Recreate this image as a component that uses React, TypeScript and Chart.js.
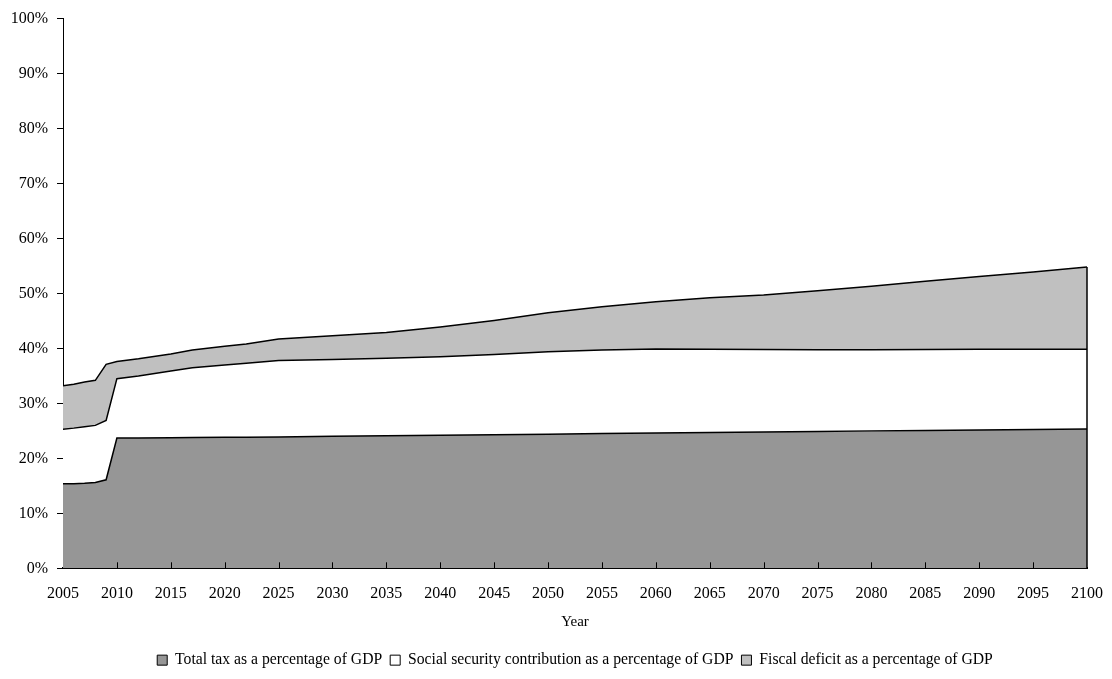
import React, { useEffect, useRef } from "react";
import { Chart, registerables } from "chart.js";

Chart.register(...registerables);

// Years with readings (the line segments between them are straight)
const years = [
  2005, 2006, 2007, 2008, 2009, 2010, 2012, 2015, 2017, 2020, 2022, 2025, 2030, 2035,
  2040, 2045, 2050, 2055, 2060, 2065, 2070, 2075, 2080, 2085, 2090, 2095, 2100,
];

// Total tax, % of GDP
const totalTax = [
  15.4, 15.4, 15.45, 15.6, 16.1, 23.7, 23.72, 23.75, 23.78, 23.82, 23.85, 23.9, 24.0, 24.1,
  24.2, 24.3, 24.4, 24.5, 24.6, 24.7, 24.8, 24.9, 25.0, 25.08, 25.16, 25.24, 25.32,
];

// Social security contribution, % of GDP
const socialSecurity = [
  9.9, 10.1, 10.3, 10.4, 10.8, 10.8, 11.28, 12.15, 12.72, 13.18, 13.45, 13.9, 14.0, 14.1,
  14.3, 14.6, 15.0, 15.2, 15.3, 15.15, 15.0, 14.85, 14.75, 14.72, 14.69, 14.61, 14.53,
];

// Fiscal deficit, % of GDP
const fiscalDeficit = [
  7.9, 8.0, 8.15, 8.2, 10.2, 3.1, 3.1, 3.1, 3.2, 3.4, 3.5, 3.9, 4.3, 4.7,
  5.4, 6.2, 7.1, 7.9, 8.6, 9.35, 9.9, 10.75, 11.55, 12.4, 13.25, 14.05, 14.95,
];

const seriesNames = [
  "Total tax as a percentage of GDP",
  "Social security contribution as a percentage of GDP",
  "Fiscal deficit as a percentage of GDP",
];
const seriesColors = ["#969696", "#FFFFFF", "#C0C0C0"];

const FONT = "'Liberation Serif', 'Times New Roman', serif";

// Inward year ticks and the closing right edge of the stacked area
const edgePlugin = {
  id: "areaEdges",
  afterDatasetsDraw(chart: any) {
    const { ctx } = chart;
    const x = chart.scales.x;
    const y = chart.scales.y;
    ctx.save();
    ctx.strokeStyle = "#000";
    ctx.lineWidth = 1;
    for (const t of x.ticks) {
      if (t.value <= x.min || t.value >= x.max) continue;
      const px = Math.round(x.getPixelForValue(t.value)) + 0.5;
      ctx.beginPath();
      ctx.moveTo(px, y.bottom);
      ctx.lineTo(px, y.bottom - 6);
      ctx.stroke();
    }
    const last = years.length - 1;
    const top = totalTax[last] + socialSecurity[last] + fiscalDeficit[last];
    const ex = x.getPixelForValue(years[last]);
    ctx.lineWidth = 1.5;
    ctx.beginPath();
    ctx.moveTo(ex, y.getPixelForValue(top));
    ctx.lineTo(ex, y.bottom);
    ctx.stroke();
    ctx.restore();
  },
};

export default function App() {
  const canvasRef = useRef<HTMLCanvasElement | null>(null);

  useEffect(() => {
    document.body.style.margin = "0";
    const canvas = canvasRef.current;
    if (!canvas) return;

    const series = [totalTax, socialSecurity, fiscalDeficit];
    const datasets = series.map((vals, i) => ({
      label: seriesNames[i],
      data: years.map((yr, j) => ({ x: yr, y: vals[j] })),
      backgroundColor: seriesColors[i],
      borderColor: "#000000",
      borderWidth: 1.5,
      pointRadius: 0,
      tension: 0,
      fill: i === 0 ? "origin" : "-1",
    }));

    const chart = new Chart(canvas, {
      type: "line",
      data: { datasets },
      plugins: [edgePlugin],
      options: {
        responsive: false,
        animation: false,
        devicePixelRatio: 1,
        layout: { padding: { left: 0, right: 25, top: 16, bottom: 1 } },
        plugins: {
          tooltip: { enabled: false },
          legend: {
            position: "bottom",
            fullSize: false,
            labels: {
              boxWidth: 10,
              boxHeight: 10,
              padding: 8,
              color: "#000",
              font: { family: FONT, size: 15.7 },
              generateLabels: (c: any) =>
                Chart.defaults.plugins.legend.labels
                  .generateLabels(c)
                  .map((l: any) => ({ ...l, lineWidth: 1 })),
            },
          },
        },
        scales: {
          x: {
            type: "linear",
            min: 2005,
            max: 2100,
            z: 1,
            grid: { display: false, drawTicks: false },
            border: { display: true, color: "#000", width: 2 },
            ticks: {
              stepSize: 5,
              padding: 16,
              color: "#000",
              maxRotation: 0,
              font: { family: FONT, size: 16 },
              callback: (v: any) => String(v),
            },
            title: {
              display: true,
              text: "Year",
              color: "#000",
              font: { family: FONT, size: 15 },
              padding: { top: 4, bottom: 13 },
            },
            afterFit: (s: any) => {
              s.height = 76;
              s.paddingLeft = 0;
              s.paddingRight = 0;
            },
          },
          y: {
            stacked: true,
            min: 0,
            max: 100,
            z: 1,
            grid: {
              drawOnChartArea: false,
              drawTicks: true,
              tickLength: 6,
              color: "#000",
            },
            border: { display: true, color: "#000", width: 1 },
            ticks: {
              stepSize: 10,
              padding: 9,
              color: "#000",
              font: { family: FONT, size: 16 },
              callback: (v: any) => v + "%",
            },
            afterFit: (s: any) => {
              s.width = 63;
            },
          },
        },
      },
    } as any);

    return () => chart.destroy();
  }, []);

  return (
    <div style={{ width: 1112, height: 679, background: "#fff" }}>
      <canvas ref={canvasRef} width={1112} height={679} />
    </div>
  );
}
